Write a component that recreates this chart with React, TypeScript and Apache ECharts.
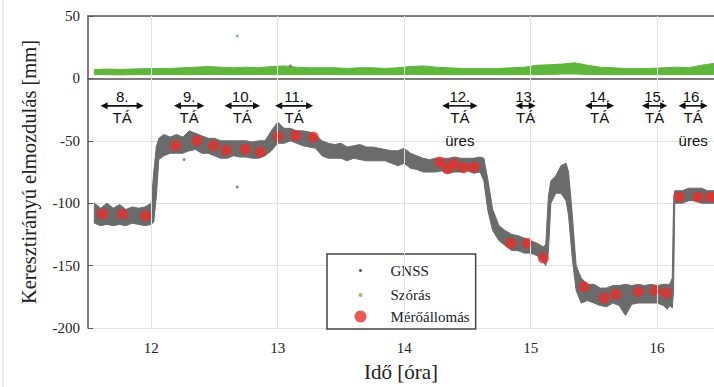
import React, { useEffect, useRef } from 'react';
import * as echarts from 'echarts';

// ---- Data ----
const xTicks = [12, 13, 14, 15, 16];

// GNSS band (upper / lower edge of the dense point cloud), mm
const gnssTime = [11.55, 11.6, 11.65, 11.7, 11.75, 11.8, 11.85, 11.9, 11.95, 12.0, 12.02, 12.04, 12.06, 12.1, 12.15, 12.2, 12.25, 12.3, 12.35, 12.4, 12.45, 12.5, 12.55, 12.6, 12.65, 12.7, 12.75, 12.8, 12.85, 12.9, 12.95, 13.0, 13.05, 13.1, 13.15, 13.2, 13.25, 13.3, 13.35, 13.4, 13.45, 13.5, 13.55, 13.6, 13.65, 13.7, 13.75, 13.8, 13.85, 13.9, 13.95, 14.0, 14.05, 14.1, 14.15, 14.2, 14.25, 14.3, 14.35, 14.4, 14.45, 14.5, 14.55, 14.6, 14.63, 14.66, 14.7, 14.75, 14.8, 14.85, 14.9, 14.95, 15.0, 15.05, 15.1, 15.12, 15.14, 15.16, 15.2, 15.24, 15.28, 15.3, 15.33, 15.36, 15.4, 15.45, 15.5, 15.55, 15.6, 15.65, 15.7, 15.75, 15.8, 15.85, 15.9, 15.95, 16.0, 16.05, 16.08, 16.1, 16.12, 16.13, 16.14, 16.2, 16.25, 16.3, 16.35, 16.4, 16.45];
const gnssUpper = [-100, -104, -100, -104, -101, -105, -103, -104, -103, -100, -75, -55, -48, -45, -47, -45, -47, -42, -44, -46, -48, -48, -50, -50, -50, -50, -50, -51, -50, -50, -42, -35, -40, -40, -42, -42, -43, -45, -50, -52, -53, -52, -55, -54, -53, -55, -55, -56, -57, -58, -58, -56, -60, -62, -64, -65, -64, -64, -64, -63, -64, -64, -64, -63, -64, -80, -105, -118, -122, -125, -126, -128, -130, -132, -135, -133, -95, -82, -78, -70, -68, -75, -110, -150, -160, -165, -165, -168, -168, -166, -166, -165, -166, -165, -166, -165, -166, -165, -165, -165, -160, -100, -90, -90, -88, -88, -88, -90, -90];
const gnssLower = [-116, -118, -117, -118, -117, -118, -116, -117, -118, -117, -115, -95, -65, -62, -60, -60, -60, -58, -57, -60, -60, -62, -64, -64, -62, -63, -63, -64, -64, -62, -58, -52, -52, -50, -52, -54, -55, -56, -62, -64, -64, -64, -66, -64, -65, -66, -66, -66, -66, -68, -70, -68, -72, -73, -75, -75, -75, -74, -76, -75, -75, -74, -76, -75, -82, -105, -122, -130, -134, -138, -138, -140, -140, -142, -147, -150, -140, -100, -92, -92, -98, -110, -145, -170, -180, -178, -180, -182, -183, -180, -182, -190, -181, -180, -180, -180, -180, -182, -185, -182, -184, -170, -100, -100, -98, -98, -100, -100, -100];
const gnssOutlierTime = [12.26, 12.68, 13.1];
const gnssOutlierValue = [-65, -87, 10];

// Szórás (standard deviation) band, mm
const sdTime = [11.55, 11.65, 11.75, 11.85, 11.95, 12.05, 12.15, 12.25, 12.35, 12.45, 12.55, 12.65, 12.75, 12.85, 12.95, 13.05, 13.15, 13.25, 13.35, 13.45, 13.55, 13.65, 13.75, 13.85, 13.95, 14.05, 14.15, 14.25, 14.35, 14.45, 14.55, 14.65, 14.75, 14.85, 14.95, 15.05, 15.15, 15.25, 15.35, 15.45, 15.55, 15.65, 15.75, 15.85, 15.95, 16.05, 16.15, 16.25, 16.35, 16.45];
const sdUpper = [7, 7.5, 7.2, 7.5, 7.8, 8, 8, 8.5, 9, 9.5, 9, 8.5, 9, 8.5, 9.5, 10, 9, 8.5, 8.5, 8.5, 8, 8.5, 8.5, 8, 8.5, 9.5, 10, 9, 8.5, 8, 8, 8, 8, 8.5, 9, 10.5, 11, 11.5, 12.5, 10.5, 9, 8.5, 8, 8, 8, 8.5, 9, 8.5, 10.5, 12];
const sdLower = [3, 3, 2.8, 3, 3, 3, 3.2, 3, 3, 3.2, 3, 3, 3, 3.2, 3, 3, 3, 3, 3.2, 3, 3, 3, 3, 3, 3, 3.2, 3, 3, 3, 3, 3, 3, 3, 3, 3, 3, 3.2, 3.5, 3.5, 3.2, 3, 3, 3, 3, 3, 3, 3, 3, 3, 3.2];
const sdOutlierTime = [12.68];
const sdOutlierValue = [34];

// Mérőállomás (total station) measurements
const refTime = [11.61, 11.77, 11.95, 12.19, 12.36, 12.49, 12.59, 12.74, 12.86, 13.0, 13.14, 13.28, 14.28, 14.34, 14.39, 14.47, 14.55, 14.84, 14.97, 15.1, 15.42, 15.58, 15.67, 15.85, 15.98, 16.07, 16.17, 16.32, 16.42];
const refValue = [-108.7, -108.7, -110, -54, -50, -54, -57.5, -56.7, -59, -46.5, -45.7, -47, -67, -72.4, -68.5, -71.5, -71, -132, -132, -144, -167, -176, -173, -171, -170, -172, -95, -95, -95];

// TÁ annotations
const annoLabels = ['8.', '9.', '10.', '11.', '12.', '13.', '14.', '15.', '16.'];
const annoStart = [11.6, 12.18, 12.58, 12.98, 14.3, 14.88, 15.43, 15.88, 16.17];
const annoEnd = [11.94, 12.42, 12.86, 13.28, 14.58, 15.04, 15.66, 16.08, 16.4];
const annoNotes = ['', '', '', '', 'üres', '', '', '', 'üres'];

// ---- Styles ----
const SERIF = '"Liberation Serif", "Times New Roman", serif';
const SANS = '"Liberation Sans", Arial, sans-serif';
const GREY = '#6b6b6b';
const GREEN = '#5eb63c';
const RED = '#e8302a';
const AXIS = '#555';
const ARROW_Y = -22;

export default function App() {
  const ref = useRef<HTMLDivElement>(null);
  useEffect(() => {
    const chart = echarts.init(ref.current!, null, { renderer: 'svg' });

    const bandRender = (time: number[], up: number[], lo: number[], color: string) =>
      (params: any, api: any) => {
        const pts: number[][] = [];
        for (let i = 0; i < time.length; i++) pts.push(api.coord([time[i], up[i]]));
        for (let i = time.length - 1; i >= 0; i--) pts.push(api.coord([time[i], lo[i]]));
        return {
          type: 'polygon',
          shape: { points: pts },
          style: { fill: color, stroke: color, lineWidth: 1 },
        };
      };

    const axisCommon = {
      type: 'value',
      min: 11.5,
      max: 16.45,
      axisLine: { show: true, lineStyle: { color: AXIS, width: 1.5 } },
      axisTick: { show: true, inside: true, length: 5, customValues: xTicks, lineStyle: { color: AXIS } },
      splitLine: { show: false },
    };

    const legendText = { fontFamily: SERIF, fontSize: 15, color: '#222' };

    const option: any = {
      animation: false,
      backgroundColor: '#fff',
      grid: { left: 88, right: 0, top: 16, bottom: 53 },
      xAxis: [
        {
          ...axisCommon,
          position: 'bottom',
          axisLabel: { customValues: xTicks, fontFamily: SERIF, fontSize: 15, color: '#222', margin: 12 },
          name: 'Idő [óra]',
          nameLocation: 'middle',
          nameGap: 33,
          nameTextStyle: { fontFamily: SERIF, fontSize: 21, color: '#222' },
        },
        {
          ...axisCommon,
          position: 'top',
          axisLabel: { show: false },
        },
      ],
      yAxis: {
        type: 'value',
        min: -200,
        max: 50,
        interval: 50,
        axisLine: { show: true, lineStyle: { color: AXIS, width: 1.5 } },
        axisTick: { show: true, inside: true, length: 5, lineStyle: { color: AXIS } },
        axisLabel: { fontFamily: SERIF, fontSize: 15, color: '#222', margin: 8 },
        splitLine: { show: true, lineStyle: { color: '#e2e2e2', width: 1 } },
        name: 'Keresztirányú elmozdulás [mm]',
        nameLocation: 'middle',
        nameGap: 49,
        nameTextStyle: { fontFamily: SERIF, fontSize: 20.5, color: '#222' },
      },
      legend: {
        orient: 'vertical',
        left: 327,
        top: 254,
        padding: [6, 6, 5, 23],
        itemWidth: 50,
        itemHeight: 12,
        itemGap: 4,
        backgroundColor: '#fff',
        borderColor: '#444',
        borderWidth: 1.5,
        textStyle: legendText,
        data: [
          { name: 'GNSS', icon: 'circle', textStyle: legendText, itemStyle: { color: '#555', borderColor: '#fff', borderWidth: 9 } },
          { name: 'Szórás', icon: 'circle', textStyle: legendText, itemStyle: { color: '#8cc86a', borderColor: '#fff', borderWidth: 8 } },
          { name: 'Mérőállomás', icon: 'circle', textStyle: legendText, itemStyle: { color: RED } },
        ],
      },
      graphic: [
        { type: 'line', shape: { x1: 3, y1: 0, x2: 3, y2: 387 }, style: { stroke: '#d6d6d6', lineWidth: 1 } },
      ],
      series: [
        {
          type: 'scatter',
          name: 'grid',
          data: [[12, -300]],
          symbolSize: 0,
          silent: true,
          z: 0,
          markLine: {
            silent: true,
            symbol: 'none',
            label: { show: false },
            lineStyle: { color: '#e2e2e2', width: 1, type: 'solid' },
            data: xTicks.map((t) => ({ xAxis: t })),
          },
        },
        {
          type: 'custom',
          name: 'Szórás',
          data: [[12, 5]],
          encode: { x: 0, y: 1 },
          itemStyle: { color: GREEN },
          renderItem: bandRender(sdTime, sdUpper, sdLower, GREEN),
          silent: true,
          z: 2,
        },
        {
          type: 'scatter',
          name: 'Szórás',
          data: sdOutlierTime.map((t, i) => [t, sdOutlierValue[i]]),
          symbolSize: 3,
          itemStyle: { color: GREEN },
          z: 2,
        },
        {
          type: 'custom',
          name: 'GNSS',
          data: [[12, -100]],
          encode: { x: 0, y: 1 },
          itemStyle: { color: GREY },
          renderItem: bandRender(gnssTime, gnssUpper, gnssLower, GREY),
          silent: true,
          z: 3,
        },
        {
          type: 'scatter',
          name: 'GNSS',
          data: gnssOutlierTime.map((t, i) => [t, gnssOutlierValue[i]]),
          symbolSize: 3,
          itemStyle: { color: GREY },
          z: 3,
        },
        {
          type: 'scatter',
          name: 'Mérőállomás',
          data: refTime.map((t, i) => [t, refValue[i]]),
          symbolSize: 11,
          itemStyle: { color: RED },
          z: 4,
        },
        {
          type: 'custom',
          name: 'TÁ',
          data: annoStart.map((s, i) => [s, annoEnd[i], ARROW_Y]),
          encode: { x: [0, 1], y: 2 },
          clip: false,
          silent: true,
          z: 5,
          renderItem: (params: any, api: any) => {
            const i = params.dataIndex;
            const p1 = api.coord([api.value(0), api.value(2)]);
            const p2 = api.coord([api.value(1), api.value(2)]);
            const y = p1[1];
            const xm = (p1[0] + p2[0]) / 2;
            const font = `15px ${SANS}`;
            const children: any[] = [
              { type: 'line', shape: { x1: p1[0] + 3, y1: y, x2: p2[0] - 3, y2: y }, style: { stroke: '#111', lineWidth: 1.6 } },
              { type: 'polygon', shape: { points: [[p1[0], y], [p1[0] + 7, y - 3.5], [p1[0] + 7, y + 3.5]] }, style: { fill: '#111' } },
              { type: 'polygon', shape: { points: [[p2[0], y], [p2[0] - 7, y - 3.5], [p2[0] - 7, y + 3.5]] }, style: { fill: '#111' } },
              { type: 'text', x: xm, y: y - 9, style: { text: annoLabels[i], fill: '#111', font, align: 'center', verticalAlign: 'middle' } },
              { type: 'text', x: xm, y: y + 12, style: { text: 'TÁ', fill: '#111', font, align: 'center', verticalAlign: 'middle' } },
            ];
            if (annoNotes[i]) {
              children.push({ type: 'text', x: xm, y: y + 35, style: { text: annoNotes[i], fill: '#111', font, align: 'center', verticalAlign: 'middle' } });
            }
            return { type: 'group', children };
          },
        },
      ],
    };

    chart.setOption(option);
    return () => chart.dispose();
  }, []);

  return (
    <div
      ref={ref}
      style={{ position: 'absolute', left: 0, top: 0, width: 714, height: 387, background: '#fff' }}
    />
  );
}
